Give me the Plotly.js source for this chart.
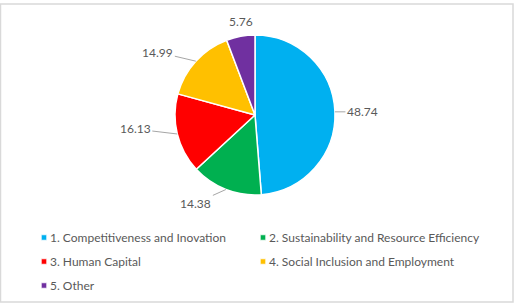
<!DOCTYPE html>
<html>
<head>
<meta charset="utf-8">
<script src="https://cdn.plot.ly/plotly-3.0.1.min.js"></script>
<style>
  html, body { margin: 0; padding: 0; background: #ffffff; }
  #chart { width: 518px; height: 304px; }
</style>
</head>
<body>
<div id="chart"></div>
<script>
// Funding shares by priority (%)
const categories = [
  '1. Competitiveness and Inovation',
  '2. Sustainability and Resource Efficiency',
  '3. Human Capital',
  '4. Social Inclusion and Employment',
  '5. Other'
];
const shares = [48.74, 14.38, 16.13, 14.99, 5.76];
const sliceColors = ['#00B0F0', '#00B050', '#FF0000', '#FFC000', '#7030A0'];

// Figure geometry (pixels)
const W = 518, H = 304;
const cx = 255, cy = 115, R = 80;
// Label offsets from the slice edge, in pixels, and whether a leader line is drawn
const labelOffsets = [[27.5, 0], [-30, 13.5], [-42, -5], [-38, -9], [0, -15]];
const leaderLine = [true, true, true, true, false];
const legendRowPitch = 24;

const textColor = '#595959';
const fontFamily = 'Lato, "Open Sans", sans-serif';

// Edge point at the middle angle of each slice (clockwise from 12 o'clock)
const total = shares.reduce((a, b) => a + b, 0);
let cum = 0;
const annotations = shares.map((v, i) => {
  const mid = (cum + v / 2) / total * 2 * Math.PI;
  cum += v;
  const px = cx + R * Math.sin(mid);
  const py = cy - R * Math.cos(mid);
  return {
    x: px / W, y: 1 - py / H, xref: 'paper', yref: 'paper',
    text: v.toFixed(2),
    showarrow: true,
    arrowhead: 0, arrowwidth: 1, arrowcolor: leaderLine[i] ? '#a6a6a6' : 'rgba(0,0,0,0)',
    standoff: 0, startstandoff: 0,
    ax: labelOffsets[i][0], ay: labelOffsets[i][1],
    font: { family: fontFamily, size: 12, color: textColor }
  };
});

const trace = {
  type: 'pie',
  labels: categories,
  values: shares,
  sort: false,
  direction: 'clockwise',
  rotation: 0,
  textinfo: 'none',
  hoverinfo: 'label+value',
  marker: { colors: sliceColors, line: { color: '#ffffff', width: 1.5 } },
  domain: { x: [(cx - R) / W, (cx + R) / W], y: [1 - (cy + R) / H, 1 - (cy - R) / H] }
};

const layout = {
  width: W, height: H,
  margin: { l: 0, r: 0, t: 0, b: 0 },
  paper_bgcolor: '#ffffff',
  showlegend: true,
  legend: {
    orientation: 'h',
    x: 10 / W, xanchor: 'left',
    y: 1 - 223 / H, yanchor: 'top',
    entrywidth: 174, entrywidthmode: 'pixels',
    bgcolor: 'rgba(0,0,0,0)',
    font: { family: fontFamily, size: 12, color: textColor },
    itemclick: false, itemdoubleclick: false,
    traceorder: 'normal'
  },
  annotations: annotations,
  shapes: [{
    type: 'rect', xref: 'paper', yref: 'paper',
    x0: 0.5 / W, x1: 513 / W, y0: 1 - 302 / H, y1: 1 - 4 / H,
    line: { color: '#d9d9d9', width: 1.5 }, fillcolor: 'rgba(0,0,0,0)', layer: 'below'
  }]
};

Plotly.newPlot('chart', [trace], layout, { displayModeBar: false, staticPlot: true }).then(() => {
  // Let long legend entries run past the legend box
  document.querySelectorAll('#chart .legend [clip-path]').forEach(el => el.removeAttribute('clip-path'));
  // Small square legend keys, nudged next to their text
  document.querySelectorAll('#chart .legendpoints path').forEach(p => {
    p.setAttribute('transform', 'translate(34,0) scale(0.45)');
  });
  // Wider spacing between legend rows
  const items = Array.from(document.querySelectorAll('#chart .legend .traces'));
  const parsed = items.map(g => {
    const m = /translate\(\s*([-\d.]+)[ ,]+([-\d.]+)\s*\)/.exec(g.getAttribute('transform') || '');
    return m ? [parseFloat(m[1]), parseFloat(m[2])] : [0, 0];
  });
  const rows = Array.from(new Set(parsed.map(p => p[1]))).sort((a, b) => a - b);
  items.forEach((g, i) => {
    const r = rows.indexOf(parsed[i][1]);
    g.setAttribute('transform', 'translate(' + parsed[i][0] + ',' + (rows[0] + r * legendRowPitch) + ')');
  });
});
</script>
</body>
</html>
